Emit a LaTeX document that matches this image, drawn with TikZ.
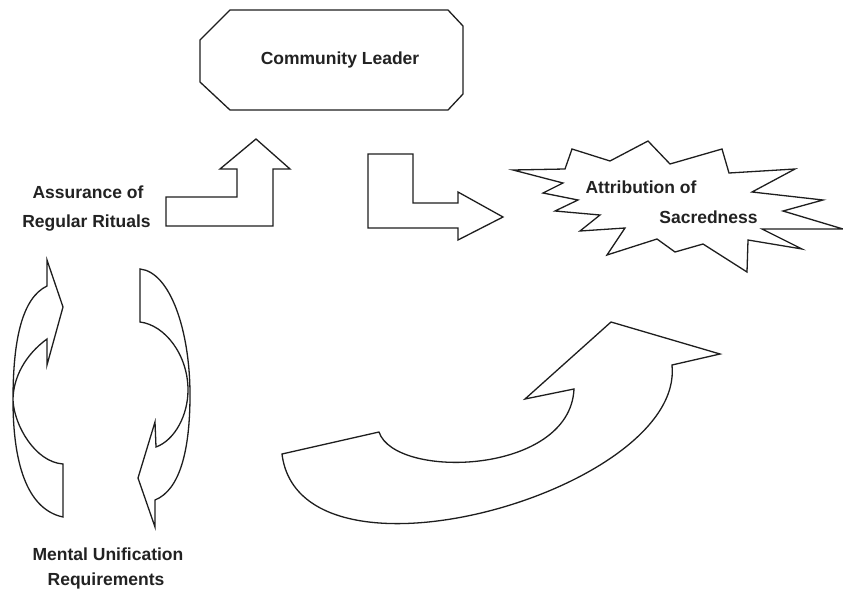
\documentclass[tikz,border=0pt]{standalone}
\usepackage{fontspec}
\setmainfont{Liberation Sans}
\definecolor{ink}{HTML}{1E1E1E}
\definecolor{txt}{HTML}{222222}
\begin{document}
\begin{tikzpicture}[x=1pt,y=-1pt,
  outl/.style={draw=ink, line width=1.3pt, line join=miter, miter limit=10},
  lbl/.style={font=\bfseries\fontsize{17.5}{21}\selectfont, text=txt, inner sep=0pt, anchor=base}]
\fill[white] (0,0) rectangle (843,591);
\useasboundingbox (0,0) rectangle (843,591);

% Community Leader octagon
\draw[outl] (230,10) -- (448,10) -- (463,26) -- (463,94) -- (448,110) -- (230,110) -- (200,82) -- (200,40) -- cycle;
\node[lbl] (leader) at (340,65) {Community Leader};

% bent arrow up
\draw[outl] (166,226) -- (166,197) -- (237,197) -- (237,169) -- (220,169) -- (256,139) -- (290,169) -- (273,169) -- (273,226) -- cycle;

% bent arrow right
\draw[outl] (368,154) -- (413,154) -- (413,203) -- (458,203) -- (458,192) -- (503,217) -- (458,240) -- (458,228) -- (368,228) -- cycle;

% starburst
\draw[outl] (648,141) -- (670,164) -- (722,149) -- (729,173) -- (795,169) -- (752,192) -- (823,200) -- (783,211) -- (843,229) -- (762,229) -- (802,249) -- (748,240) -- (747,272) -- (703,244) -- (675,252) -- (657,239) -- (607,255) -- (625,228) -- (580,231) -- (600,215) -- (555,211) -- (578,200) -- (543,193) -- (563,183) -- (513,170) -- (565,169) -- (572,149) -- (610,161) -- cycle;
\node[lbl] (attr) at (641,193) {Attribution of};
\node[lbl] (sacred) at (708.5,223) {Sacredness};

% Assurance label
\node[lbl] (assur) at (88,198) {Assurance of};
\node[lbl] (rituals) at (86.5,227) {Regular Rituals};

% left circular arrow (up)
\draw[outl] (63,517) .. controls (30,510) and (13,470) .. (13,400)
  .. controls (13,340) and (22,298) .. (47,286) -- (47,260) -- (63,307) -- (47,365) -- (47,339)
  .. controls (25,355) and (13,378) .. (13,400) .. controls (14,425) and (35,462) .. (63,464) -- cycle;

% right circular arrow (down)
\draw[outl] (140,269) -- (140,322) .. controls (165,325) and (188,355) .. (188,390)
  .. controls (188,415) and (175,440) .. (156,447) -- (155,422) -- (138,478) -- (155,527) -- (155,500)
  .. controls (180,490) and (190,450) .. (190,395) .. controls (190,330) and (170,272) .. (140,269) -- cycle;

% big curved arrow
\draw[outl] (282,454) -- (379,432) .. controls (395,480) and (570,475) .. (574,389) -- (525,399) -- (611,322) -- (720,354) -- (672,365)
  .. controls (685,490) and (300,600) .. (282,454) -- cycle;

% Mental Unification label
\node[lbl] (mental) at (108,560) {Mental Unification};
\node[lbl] (req) at (106,585) {Requirements};
\end{tikzpicture}
\end{document}
